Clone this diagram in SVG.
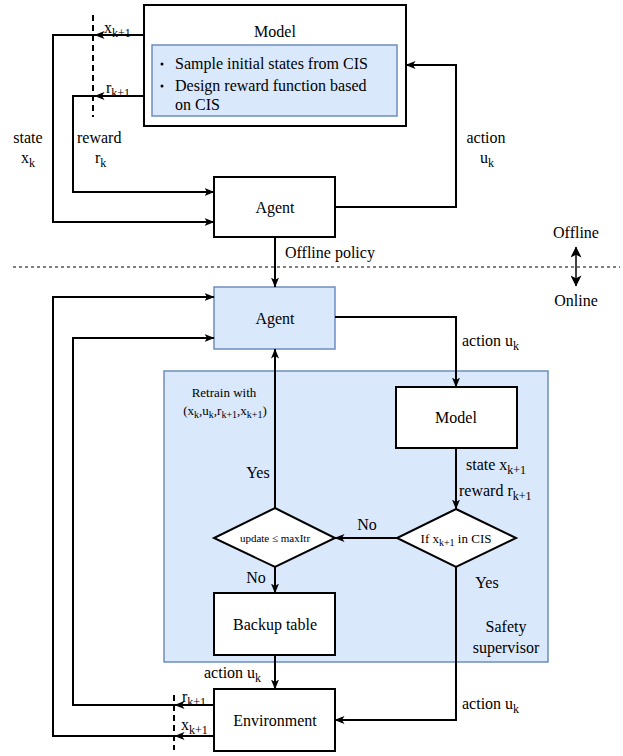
<svg xmlns="http://www.w3.org/2000/svg" width="623" height="756" viewBox="0 0 623 756">
<style>
text{font-family:"Liberation Serif","Times New Roman",serif;fill:#000;}
.t16{font-size:16px;}
.c{text-anchor:middle;}
.box{fill:#fff;stroke:#000;stroke-width:2;}
.blue{fill:#dae8fc;stroke:#6c8ebf;stroke-width:1.5;}
.ln{fill:none;stroke:#000;stroke-width:2;}
.dash{fill:none;stroke:#000;stroke-width:2;stroke-dasharray:6 4;}
.thin{fill:none;stroke:#000;stroke-width:1;stroke-dasharray:3 3;}
.sub{font-size:12px;}
</style>
<defs>
<marker id="arr" viewBox="0 0 10 8" refX="9.5" refY="4" markerWidth="10" markerHeight="8" markerUnits="userSpaceOnUse" orient="auto-start-reverse">
<path d="M0,0 L10,4 L0,8 L2.5,4 z" fill="#000"/>
</marker>
<marker id="arr2" viewBox="0 0 10 10" refX="9.5" refY="5" markerWidth="12" markerHeight="11" markerUnits="userSpaceOnUse" orient="auto-start-reverse">
<path d="M0,0 L10,5 L0,10 L2.5,5 z" fill="#000"/>
</marker>
</defs>

<g id="separator">
<line x1="13" y1="267" x2="620" y2="267" class="thin"/>
<text class="t16 c" x="576" y="238">Offline</text>
<text class="t16 c" x="576" y="306">Online</text>
<line x1="576" y1="247" x2="576" y2="286" stroke="#000" stroke-width="1.5" marker-start="url(#arr2)" marker-end="url(#arr2)"/>
</g>

<g id="safety-supervisor">
<rect x="164" y="371" width="384" height="291" class="blue"/>
<text class="t16 c" x="506" y="632">Safety</text>
<text class="t16 c" x="506" y="653">supervisor</text>
</g>

<g id="model-offline">
<rect x="144" y="5" width="262" height="121" class="box"/>
<text class="t16 c" x="275" y="37">Model</text>
<rect x="152" y="45" width="245" height="71" class="blue"/>
<circle cx="162" cy="64" r="1.5" fill="#000"/>
<circle cx="162" cy="86" r="1.5" fill="#000"/>
<text class="t16" x="175" y="69">Sample initial states from CIS</text>
<text class="t16" x="175" y="91">Design reward function based</text>
<text class="t16" x="175" y="110">on CIS</text>
</g>

<g id="agent-offline">
<rect x="214" y="177" width="121" height="60" class="box"/>
<text class="t16 c" x="275" y="213">Agent</text>
</g>

<g id="agent-online">
<rect x="214" y="287" width="121" height="62" class="blue"/>
<text class="t16 c" x="275" y="324">Agent</text>
</g>

<g id="model-online">
<rect x="396" y="387" width="121" height="61" class="box"/>
<text class="t16 c" x="456" y="423">Model</text>
</g>

<g id="cis-check">
<polygon points="456,509 516,538 456,567 397,538" class="box"/>
<text class="c" x="456" y="543" font-size="13">If x<tspan font-size="10" dy="3">k+1</tspan><tspan dy="-3"> in CIS</tspan></text>
</g>

<g id="update-check">
<polygon points="275,508 335,538 275,567 214,538" class="box"/>
<text class="c" x="275" y="542" font-size="11">update ≤ maxItr</text>
</g>

<g id="backup-table">
<rect x="214" y="593" width="121" height="62" class="box"/>
<text class="t16 c" x="275" y="630">Backup table</text>
</g>

<g id="environment">
<rect x="214" y="689" width="121" height="62" class="box"/>
<text class="t16 c" x="275" y="726">Environment</text>
</g>

<g id="connectors">
<line x1="93" y1="15" x2="93" y2="117" class="dash"/>
<path d="M144,35 L95,35" class="ln" marker-end="url(#arr)"/>
<path d="M97,35 L53,35 L53,222 L214,222" class="ln" marker-end="url(#arr)"/>
<path d="M144,96 L95,96" class="ln" marker-end="url(#arr)"/>
<path d="M97,96 L73,96 L73,192 L214,192" class="ln" marker-end="url(#arr)"/>
<path d="M335,207 L456,207 L456,65 L406,65" class="ln" marker-end="url(#arr)"/>
<path d="M275,237 L275,287" class="ln" marker-end="url(#arr)"/>
<path d="M335,317 L456,317 L456,387" class="ln" marker-end="url(#arr)"/>
<path d="M456,448 L456,509" class="ln" marker-end="url(#arr)"/>
<path d="M397,538 L335,538" class="ln" marker-end="url(#arr)"/>
<path d="M275,508 L275,349" class="ln" marker-end="url(#arr)"/>
<path d="M275,567 L275,593" class="ln" marker-end="url(#arr)"/>
<path d="M275,655 L275,689" class="ln" marker-end="url(#arr)"/>
<path d="M456,567 L456,720 L335,720" class="ln" marker-end="url(#arr)"/>
<line x1="174" y1="695" x2="174" y2="750" class="dash"/>
<path d="M214,705 L175,705" class="ln" marker-end="url(#arr)"/>
<path d="M177,705 L73,705 L73,338 L214,338" class="ln" marker-end="url(#arr)"/>
<path d="M214,736 L175,736" class="ln" marker-end="url(#arr)"/>
<path d="M177,736 L53,736 L53,297 L214,297" class="ln" marker-end="url(#arr)"/>
</g>

<g id="labels">
<text class="t16" x="104" y="33">x<tspan class="sub" dy="4">k+1</tspan></text>
<text class="t16" x="106" y="93">r<tspan class="sub" dy="4">k+1</tspan></text>
<text class="t16 c" x="28" y="143">state</text>
<text class="t16 c" x="28" y="163">x<tspan class="sub" dy="4">k</tspan></text>
<text class="t16" x="77" y="143">reward</text>
<text class="t16" x="95" y="163">r<tspan class="sub" dy="4">k</tspan></text>
<text class="t16 c" x="486" y="143">action</text>
<text class="t16" x="480" y="163">u<tspan class="sub" dy="4">k</tspan></text>
<text class="t16" x="285" y="258">Offline policy</text>
<text class="t16" x="462" y="346">action u<tspan class="sub" dy="4">k</tspan></text>
<text class="t16" x="466" y="470">state x<tspan class="sub" dy="4">k+1</tspan></text>
<text class="t16" x="459" y="496">reward r<tspan class="sub" dy="4">k+1</tspan></text>
<text class="t16 c" x="367" y="530">No</text>
<text class="t16 c" x="487" y="588">Yes</text>
<text class="t16" x="462" y="709">action u<tspan class="sub" dy="4">k</tspan></text>
<text class="c" x="224" y="397" font-size="13">Retrain with</text>
<text class="c" x="225" y="415" font-size="13">(x<tspan font-size="10" dy="3">k</tspan><tspan dy="-3">,u</tspan><tspan font-size="10" dy="3">k</tspan><tspan dy="-3">,r</tspan><tspan font-size="10" dy="3">k+1</tspan><tspan dy="-3">,x</tspan><tspan font-size="10" dy="3">k+1</tspan><tspan dy="-3">)</tspan></text>
<text class="t16 c" x="258" y="478">Yes</text>
<text class="t16 c" x="256" y="583">No</text>
<text class="t16" x="204" y="678">action u<tspan class="sub" dy="4">k</tspan></text>
<text class="t16" x="182" y="702">r<tspan class="sub" dy="4">k+1</tspan></text>
<text class="t16" x="181" y="730">x<tspan class="sub" dy="4">k+1</tspan></text>
</g>
</svg>
